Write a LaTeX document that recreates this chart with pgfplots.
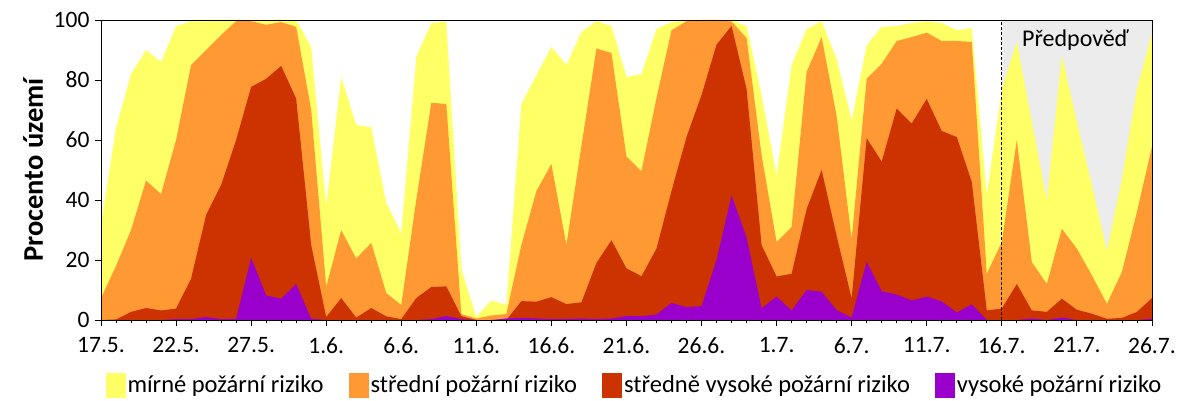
\documentclass[border=0pt]{standalone}
\usepackage{fontspec}
\setmainfont{Carlito}
\usepackage{pgfplots}
\usepackage{pgfplotstable}
\pgfplotsset{compat=1.18}
\definecolor{cY}{RGB}{255,255,102}
\definecolor{cO}{RGB}{255,153,51}
\definecolor{cR}{RGB}{204,51,0}
\definecolor{cP}{RGB}{153,0,204}
\definecolor{cG}{RGB}{236,236,236}
\pgfplotstableread{
x Y O R P
0 32 7.3 0 0
1 64 18 0.2 0
2 82 30 2.7 0
3 90 46.5 4 0
4 86 42 3.2 0
5 98 60 3.8 0.3
6 99.6 85 13.8 0.3
7 100 90 35 1
8 100 95 45 0.3
9 100 99.6 60 0.4
10 100 99.6 77.7 20.7
11 100 98.4 80.4 8.2
12 100 99.3 84.7 7.1
13 100 97.7 73.8 12
14 91 70 25 0.4
15 38 11 1 0
16 81 30 7.3 0
17 65 20.5 0.8 0
18 64.3 25.7 4 0
19 39 9 1.2 0
20 29 5 0.3 0
21 87.7 40 7.3 0
22 99 72.4 11 0.3
23 99.5 72 11.2 1.3
24 17 2 1.3 0.3
25 1 0.5 0 0
26 6.5 1.5 0 0
27 5 2 0 0.5
28 72 25 6.3 0.7
29 81.6 43 6.1 0.5
30 91 52 7.6 0.3
31 85 25 5.3 0.3
32 96 58 5.9 0.5
33 99.6 90.5 19 0.3
34 98 89 26.6 0.5
35 81 54.5 17.2 1.3
36 82 49.6 14.6 1.3
37 97 74 23.8 1.8
38 99.3 96.6 43 5.7
39 100 99.6 61 4.3
40 100 100 75 4.6
41 100 100 91.8 20
42 100 99.5 98 41.5
43 98 94 77 27.5
44 75 55 25 3.9
45 48 26 14.5 7.8
46 85 31 15.4 3.2
47 97 82.7 37 10
48 99.6 94.3 50 9.4
49 87 68 28 3.3
50 66.6 27 7.2 0.8
51 91.6 80.4 60.6 19.4
52 97.7 85.4 52.8 9.6
53 98 93 70.5 8.5
54 99 94.3 65.5 6.5
55 99.6 95.8 73.7 7.8
56 99 93 63 6.2
57 96.6 93 61 2.5
58 97.3 92.7 46 5.2
59 41.6 15.4 3.2 0
60 77 26 3.8 0
61 92.7 60 12 0
62 66 19.3 3.2 0.5
63 40 12 2.7 0
64 88.2 30.4 7.1 0.8
65 66 23.8 3.4 0
66 45 14.9 2.1 0
67 23 5.4 0.4 0
68 47 16 0.7 0
69 77 36 2.7 0
70 95.5 57.7 7.3 0.4
}\data
\begin{document}
\begin{tikzpicture}
\useasboundingbox (0,0) rectangle (1200pt,400pt);
\begin{axis}[
  at={(101pt,80pt)}, anchor=south west,
  scale only axis, width=1051pt, height=300pt,
  xmin=0, xmax=70, ymin=0, ymax=100,
  axis on top,
  xtick={0,5,...,70},
  xticklabels={17.5.,22.5.,27.5.,1.6.,6.6.,11.6.,16.6.,21.6.,26.6.,1.7.,6.7.,11.7.,16.7.,21.7.,26.7.},
  minor x tick num=4,
  ytick={0,20,...,100},
  xtick pos=bottom, ytick pos=left,
  tick align=outside,
  major tick length=6pt, minor tick length=3pt,
  tick style={black, line width=0.8pt},
  axis line style={line width=0.8pt},
  /pgf/number format/assume math mode=true,
  ticklabel style={font=\fontsize{23.5}{27}\selectfont},
  xticklabel style={yshift=-8pt},
  yticklabel style={xshift=-2pt},
  ylabel={\bfseries Procento území},
  ylabel style={font=\fontsize{28.5}{32}\selectfont, at={(axis description cs:-0.0552,0.5)}, anchor=base},
  legend style={at={(0.5076,-0.2167)}, anchor=center, draw=none, fill=none,
    legend columns=4, font=\fontsize{24.5}{28}\selectfont,
    /tikz/every even column/.append style={column sep=23pt}},
  legend image code/.code={\fill[#1] (-3pt,-12.5pt) rectangle (17pt,12.5pt);},
]
\fill[cG] (axis cs:60,0) rectangle (axis cs:70,100);
\addplot[fill=cY, draw=none] table[x=x,y=Y]{\data} \closedcycle;
\addlegendentry{mírné požární riziko}
\addplot[fill=cO, draw=none] table[x=x,y=O]{\data} \closedcycle;
\addlegendentry{střední požární riziko}
\addplot[fill=cR, draw=none] table[x=x,y=R]{\data} \closedcycle;
\addlegendentry{středně vysoké požární riziko}
\addplot[fill=cP, draw=none] table[x=x,y=P]{\data} \closedcycle;
\addlegendentry{vysoké požární riziko}
\draw[black, line width=0.8pt, dash pattern=on 3pt off 2pt] (axis cs:60,0) -- (axis cs:60,100);
\node[anchor=base, font=\fontsize{24}{28}\selectfont] at (axis cs:64.9,91) {Předpověď};
\end{axis}
\end{tikzpicture}
\end{document}
